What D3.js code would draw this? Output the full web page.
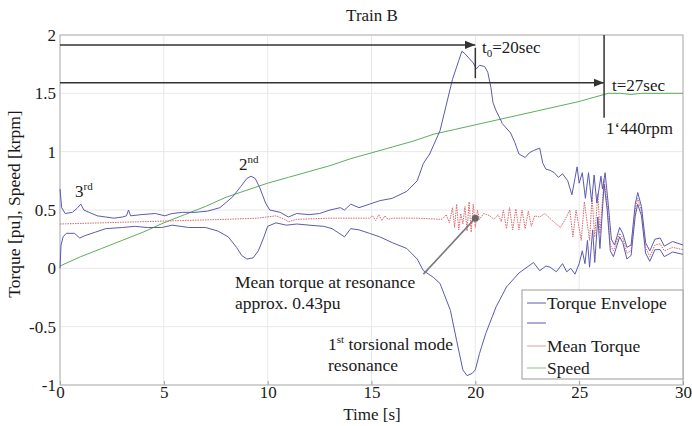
<!DOCTYPE html>
<html>
<head>
<meta charset="utf-8">
<script src="https://cdn.jsdelivr.net/npm/d3@7"></script>
<style>
body { margin: 0; background: #fff; }
svg text { font-family: "Liberation Serif", "Times New Roman", serif; fill: #1a1a1a; }
</style>
</head>
<body>
<div id="chart"></div>
<script>
// data: [time s, value]
const xTicks = [0, 5, 10, 15, 20, 25, 30];
const yTicks = [-1, -0.5, 0, 0.5, 1, 1.5, 2];

const envUpper = [[0,0.68],[0.08,0.52],[0.25,0.47],[0.6,0.48],[0.85,0.52],[1.0,0.55],[1.15,0.5],[1.4,0.48],[1.8,0.45],[2.2,0.44],[2.6,0.43],[3.0,0.44],[3.2,0.45],[3.3,0.5],[3.4,0.45],[3.9,0.46],[4.6,0.47],[5.05,0.45],[5.4,0.47],[5.9,0.48],[6.5,0.48],[7.1,0.49],[7.7,0.52],[8.3,0.61],[8.7,0.7],[9.0,0.77],[9.2,0.79],[9.4,0.77],[9.6,0.7],[9.9,0.56],[10.1,0.5],[10.6,0.48],[11.0,0.44],[11.4,0.47],[12.0,0.46],[12.5,0.47],[13.0,0.5],[13.5,0.52],[13.7,0.5],[14.0,0.55],[14.4,0.52],[14.9,0.55],[15.4,0.58],[16.0,0.6],[16.7,0.66],[17.2,0.75],[17.5,0.9],[17.8,0.98],[18.3,1.18],[18.6,1.4],[18.9,1.62],[19.2,1.78],[19.35,1.86],[19.5,1.84],[19.7,1.8],[19.9,1.76],[20.05,1.71],[20.2,1.74],[20.45,1.73],[20.6,1.68],[20.75,1.55],[20.85,1.42],[21.0,1.35],[21.2,1.28],[21.3,1.24],[21.7,1.16],[21.9,1.08],[22.1,0.98],[22.4,0.95],[22.6,0.99],[22.8,1.01],[23.1,1.03],[23.25,0.9],[23.4,0.85],[23.6,0.84],[23.8,0.82],[24.0,0.78],[24.2,0.81],[24.45,0.75],[24.65,0.63],[24.9,0.87],[25.0,0.73],[25.15,0.82],[25.3,0.6],[25.45,0.82],[25.6,0.57],[25.72,0.8],[25.85,0.56],[26.05,0.79],[26.12,0.68],[26.25,0.82],[26.4,0.55],[26.55,0.25],[26.7,0.2],[26.95,0.35],[27.1,0.3],[27.3,0.18],[27.5,0.2],[27.7,0.55],[27.82,0.65],[28.0,0.53],[28.2,0.22],[28.4,0.15],[28.65,0.25],[28.9,0.26],[29.1,0.19],[29.5,0.23],[30.0,0.2]];

const envLower = [[0,0.0],[0.05,0.2],[0.15,0.27],[0.3,0.3],[0.7,0.3],[0.95,0.26],[1.2,0.28],[1.7,0.31],[2.2,0.34],[3.0,0.35],[3.6,0.36],[4.2,0.35],[4.9,0.35],[5.4,0.37],[6.2,0.35],[7.0,0.35],[7.6,0.32],[8.1,0.27],[8.5,0.18],[8.75,0.11],[9.0,0.08],[9.3,0.09],[9.55,0.15],[9.8,0.26],[10.0,0.36],[10.4,0.39],[10.9,0.37],[11.4,0.38],[12.0,0.37],[12.7,0.36],[13.1,0.34],[13.7,0.27],[14.0,0.34],[14.4,0.33],[14.9,0.3],[15.4,0.27],[16.0,0.22],[16.7,0.17],[17.2,0.08],[17.5,-0.02],[18.0,-0.08],[18.3,-0.13],[18.8,-0.36],[19.1,-0.62],[19.4,-0.87],[19.6,-0.92],[19.85,-0.9],[20.0,-0.87],[20.2,-0.73],[20.5,-0.56],[21.0,-0.33],[21.5,-0.16],[22.1,-0.04],[22.8,0.05],[23.1,-0.02],[23.4,0.02],[23.6,0.01],[23.9,-0.03],[24.2,0.04],[24.4,-0.03],[24.6,0.0],[24.8,-0.05],[25.0,0.04],[25.15,0.15],[25.28,0.04],[25.4,0.24],[25.5,0.01],[25.65,0.33],[25.75,0.05],[25.9,0.44],[26.0,0.17],[26.2,0.72],[26.35,0.5],[26.5,0.15],[26.65,0.1],[26.95,0.27],[27.1,0.22],[27.3,0.08],[27.5,0.11],[27.7,0.45],[27.82,0.55],[28.0,0.45],[28.2,0.13],[28.4,0.06],[28.65,0.16],[28.9,0.16],[29.1,0.1],[29.5,0.14],[30.0,0.12]];

const meanTorque = [[0,0.38],[2,0.39],[4,0.4],[6,0.41],[8,0.42],[9.5,0.43],[10.4,0.45],[10.8,0.42],[11.0,0.4],[11.4,0.42],[13,0.43],[14.9,0.43],[15.05,0.45],[15.2,0.41],[15.35,0.46],[15.5,0.41],[15.65,0.45],[15.8,0.42],[16.0,0.43],[17.2,0.43],[18.4,0.42],[18.6,0.46],[18.75,0.39],[18.9,0.52],[19.0,0.35],[19.1,0.55],[19.2,0.33],[19.3,0.47],[19.4,0.38],[19.5,0.53],[19.6,0.32],[19.7,0.57],[19.8,0.31],[19.9,0.55],[20.0,0.35],[20.1,0.5],[20.2,0.42],[20.4,0.47],[20.7,0.45],[20.9,0.42],[21.1,0.46],[21.25,0.4],[21.35,0.5],[21.5,0.34],[21.65,0.52],[21.8,0.33],[21.95,0.51],[22.1,0.33],[22.25,0.5],[22.4,0.34],[22.55,0.49],[22.7,0.36],[22.85,0.45],[23.1,0.44],[23.35,0.47],[23.7,0.41],[24.1,0.35],[24.3,0.41],[24.55,0.5],[24.7,0.27],[24.85,0.5],[25.1,0.24],[25.25,0.57],[25.5,0.24],[25.62,0.61],[25.75,0.27],[25.9,0.64],[26.0,0.3],[26.2,0.76],[26.35,0.55],[26.5,0.2],[26.65,0.15],[26.95,0.3],[27.1,0.26],[27.3,0.13],[27.5,0.15],[27.7,0.5],[27.82,0.6],[28.0,0.49],[28.2,0.18],[28.4,0.1],[28.65,0.2],[28.9,0.21],[29.1,0.15],[29.5,0.18],[30.0,0.16]];

const speed = [[0,0.02],[1,0.1],[2,0.17],[3,0.24],[4,0.31],[5,0.39],[6,0.46],[7,0.53],[8,0.61],[9,0.67],[10,0.73],[11,0.78],[12,0.83],[13,0.88],[14,0.94],[15,0.99],[16,1.04],[17,1.09],[18,1.15],[19,1.19],[20,1.23],[21,1.27],[22,1.31],[23,1.35],[24,1.39],[25,1.43],[26,1.48],[26.4,1.5],[27,1.5],[27.5,1.49],[28,1.5],[29,1.5],[30,1.5]];

// markers: arrows at these levels end at t0 and t
const arrowLevels = [1.915, 1.59];
const arrowEnds = [20, 26.2];
const meanMarker = [20, 0.43];
const meanPointerFrom = [17.5, -0.05];

const W = 692, H = 426;
const m = {top: 35, right: 9, bottom: 41, left: 60};
const svg = d3.select("#chart").append("svg").attr("width", W).attr("height", H);

const x = d3.scaleLinear().domain([0, 30]).range([m.left, W - m.right]);
const y = d3.scaleLinear().domain([-1, 2]).range([H - m.bottom, m.top]);

// grid
svg.append("g").selectAll("line.gx").data(xTicks).enter().append("line")
  .attr("x1", d => x(d)).attr("x2", d => x(d)).attr("y1", y(-1)).attr("y2", y(2))
  .attr("stroke", "#e8e8e8");
svg.append("g").selectAll("line.gy").data(yTicks).enter().append("line")
  .attr("x1", x(0)).attr("x2", x(30)).attr("y1", d => y(d)).attr("y2", d => y(d))
  .attr("stroke", "#e8e8e8");

// axes
const xAxis = svg.append("g").attr("transform", "translate(0," + y(-1) + ")")
  .call(d3.axisBottom(x).tickValues(xTicks).tickSize(4).tickPadding(3).tickFormat(d3.format("d")));
const yAxis = svg.append("g").attr("transform", "translate(" + x(0) + ",0)")
  .call(d3.axisLeft(y).tickValues(yTicks).tickSize(0).tickPadding(4).tickFormat(d => d));
[xAxis, yAxis].forEach(g => {
  g.attr("font-family", null).attr("font-size", null);
  g.select(".domain").remove();
  g.selectAll("text").style("font-size", "17px");
  g.selectAll("line").attr("stroke", "#999").attr("y2", -4);
});
yAxis.selectAll("line").remove();
xAxis.selectAll("text").attr("y", 13).attr("dy", 0);

// frame
svg.append("rect").attr("x", x(0)).attr("y", y(2)).attr("width", x(30) - x(0)).attr("height", y(-1) - y(2))
  .attr("fill", "none").attr("stroke", "#b0b0b0");

const line = d3.line().x(d => x(d[0])).y(d => y(d[1]));

svg.append("path").datum(speed).attr("d", line).attr("fill", "none").attr("stroke", "#5cae5c").attr("stroke-width", 1);
svg.append("path").datum(meanTorque).attr("d", line).attr("fill", "none").attr("stroke", "#d9676a").attr("stroke-width", 1).attr("stroke-dasharray", "1.5,1");
svg.append("path").datum(envUpper).attr("d", line).attr("fill", "none").attr("stroke", "#5b5bb0").attr("stroke-width", 1);
svg.append("path").datum(envLower).attr("d", line).attr("fill", "none").attr("stroke", "#5b5bb0").attr("stroke-width", 1);

// arrows
svg.append("defs").append("marker").attr("id", "ah").attr("viewBox", "0 0 10 10")
  .attr("refX", 10).attr("refY", 5).attr("markerWidth", 7).attr("markerHeight", 7).attr("orient", "auto")
  .append("path").attr("d", "M0,1 L10,5 L0,9 z").attr("fill", "#333");
arrowLevels.forEach((lv, i) => {
  svg.append("line").attr("x1", x(0)).attr("x2", x(arrowEnds[i])).attr("y1", y(lv)).attr("y2", y(lv))
    .attr("stroke", "#333").attr("stroke-width", 1.5).attr("marker-end", "url(#ah)");
});
svg.append("line").attr("x1", x(20)).attr("x2", x(20)).attr("y1", y(1.89)).attr("y2", y(1.63)).attr("stroke", "#333").attr("stroke-width", 1.5);
svg.append("line").attr("x1", x(26.2)).attr("x2", x(26.2)).attr("y1", y(2)).attr("y2", y(1.29)).attr("stroke", "#333").attr("stroke-width", 1.5);

// mean torque pointer
svg.append("line").attr("x1", x(meanPointerFrom[0])).attr("y1", y(meanPointerFrom[1]))
  .attr("x2", x(meanMarker[0])).attr("y2", y(meanMarker[1])).attr("stroke", "#7a7a7a").attr("stroke-width", 1.6);
svg.append("circle").attr("cx", x(meanMarker[0])).attr("cy", y(meanMarker[1])).attr("r", 3.5).attr("fill", "#666");

// text helpers
function label(px, py, parts, size) {
  const t = svg.append("text").attr("x", px).attr("y", py).style("font-size", (size || 17) + "px");
  parts.forEach(p => {
    const s = t.append("tspan").text(p[0]);
    if (p[1] === "sup") s.style("font-size", "11px").attr("dy", -7);
    if (p[1] === "sub") s.style("font-size", "11px").attr("dy", 4);
    if (p[1] === "back") s.attr("dy", p[2]);
  });
  return t;
}
label(482, 53, [["t"], ["0", "sub"], ["=20sec", "back", -4]]);
label(612, 91, [["t=27sec"]]);
label(606, 134, [["1‘440rpm"]]);
label(75, 197, [["3"], ["rd", "sup"]]);
label(239, 170, [["2"], ["nd", "sup"]]);
label(235, 288, [["Mean torque at resonance"]], 17.5);
label(235, 309, [["approx. 0.43pu"]], 17.5);
label(328, 350, [["1"], ["st", "sup"], [" torsional mode", "back", 7]], 17.5);
label(328, 371, [["resonance"]], 17.5);

// title and axis titles
svg.append("text").attr("x", 372).attr("y", 21).attr("text-anchor", "middle").style("font-size", "17px").text("Train B");
svg.append("text").attr("x", 372).attr("y", 420).attr("text-anchor", "middle").style("font-size", "17px").text("Time [s]");
svg.append("text").attr("transform", "translate(20,204) rotate(-90)").attr("text-anchor", "middle").style("font-size", "17.5px").text("Torque [pu], Speed [krpm]");

// legend
const lg = svg.append("g");
const lx = x(30) - 161, ly = 290;
lg.append("rect").attr("x", lx).attr("y", ly).attr("width", 161).attr("height", 89).attr("fill", "#fff").attr("stroke", "#999");
const legItems = [["Torque Envelope", "#5b5bb0", 13], ["", "#5b5bb0", 33], ["Mean Torque", "#d9a0a6", 56], ["Speed", "#8cbf8c", 78]];
legItems.forEach(d => {
  lg.append("line").attr("x1", lx + 5).attr("x2", lx + 24).attr("y1", ly + d[2]).attr("y2", ly + d[2]).attr("stroke", d[1]).attr("stroke-width", 1);
  lg.append("text").attr("x", lx + 25).attr("y", ly + d[2] + 6).style("font-size", "17.5px").text(d[0]);
});
</script>
</body>
</html>
